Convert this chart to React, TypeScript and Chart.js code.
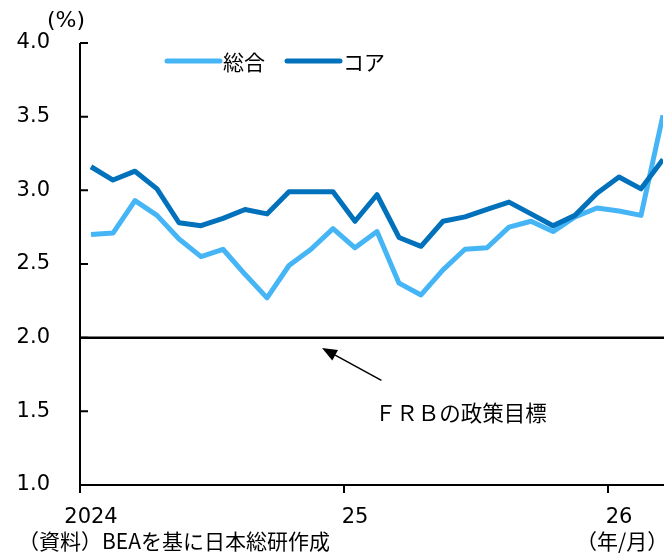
import React, { useEffect, useRef } from "react";
import { Chart, registerables } from "chart.js";

Chart.register(...registerables);

// ---- data ----
const MONTHS = [
  "2024/1", "2024/2", "2024/3", "2024/4", "2024/5", "2024/6", "2024/7", "2024/8", "2024/9", "2024/10", "2024/11", "2024/12",
  "2025/1", "2025/2", "2025/3", "2025/4", "2025/5", "2025/6", "2025/7", "2025/8", "2025/9", "2025/10", "2025/11", "2025/12",
  "2026/1", "2026/2", "2026/3",
];
const HEADLINE = [
  2.70, 2.71, 2.93, 2.83, 2.67, 2.55, 2.60, 2.43, 2.27, 2.49, 2.60, 2.74,
  2.61, 2.72, 2.37, 2.29, 2.46, 2.60, 2.61, 2.75, 2.79, 2.72, 2.82, 2.88,
  2.86, 2.83, 3.51,
];
const CORE = [
  3.16, 3.07, 3.13, 3.01, 2.78, 2.76, 2.81, 2.87, 2.84, 2.99, 2.99, 2.99,
  2.79, 2.97, 2.68, 2.62, 2.79, 2.82, 2.87, 2.92, 2.84, 2.76, 2.83, 2.98,
  3.09, 3.01, 3.21,
];
const SERIES_NAMES = ["総合", "コア"];
const YEAR_LABELS = ["2024", "25", "26"];
const Y_MIN = 1.0;
const Y_MAX = 4.0;
const Y_STEP = 0.5;
const TARGET = 2.0;
const TARGET_LABEL = "ＦＲＢの政策目標";
const UNIT_LABEL = "(%)";
const SOURCE_NOTE = "（資料）BEAを基に日本総研作成";
const X_UNIT = "（年/月）";

const COLORS = { headline: "#46B5F6", core: "#0071BA" };
const CJK = "'Noto Sans CJK JP', sans-serif";
const NUM = "'DejaVu Sans', sans-serif";

const YEAR_TICK_POS = MONTHS.map((m, i) => (m.endsWith("/1") ? i - 0.5 : null)).filter(
  (v) => v !== null
) as number[];

const decor = {
  id: "decor",
  beforeDatasetsDraw(chart: any) {
    const { ctx, chartArea: a, scales } = chart;
    const y = scales.y;
    ctx.save();
    const ty = y.getPixelForValue(TARGET);
    ctx.strokeStyle = "#000";
    ctx.lineWidth = 2.5;
    ctx.beginPath();
    ctx.moveTo(a.left, ty);
    ctx.lineTo(chart.width, ty);
    ctx.stroke();
    ctx.restore();
  },
  afterDraw(chart: any) {
    const { ctx, chartArea: a, scales } = chart;
    const x = scales.x;
    const y = scales.y;
    ctx.save();
    ctx.strokeStyle = "#000";
    ctx.lineWidth = 2;
    // axes
    ctx.beginPath();
    ctx.moveTo(a.left, a.top);
    ctx.lineTo(a.left, a.bottom);
    ctx.moveTo(a.left - 1, a.bottom);
    ctx.lineTo(chart.width, a.bottom);
    ctx.stroke();
    // y ticks (inward)
    ctx.beginPath();
    y.ticks.forEach((t: any) => {
      const py = y.getPixelForValue(t.value);
      ctx.moveTo(a.left, py);
      ctx.lineTo(a.left + 8, py);
    });
    // x ticks (outward)
    x.ticks.forEach((t: any) => {
      const px = x.getPixelForValue(t.value);
      ctx.moveTo(px, a.bottom);
      ctx.lineTo(px, a.bottom + 8);
    });
    ctx.stroke();

    // legend
    const ds = chart.data.datasets;
    const legendItems = [
      { label: ds[0].label, color: ds[0].borderColor, x0: a.left + 85 },
      { label: ds[1].label, color: ds[1].borderColor, x0: a.left + 205 },
    ];
    const ly = a.top + 18;
    ctx.font = `21px ${CJK}`;
    ctx.textBaseline = "middle";
    ctx.textAlign = "left";
    legendItems.forEach((it) => {
      ctx.strokeStyle = it.color;
      ctx.lineWidth = 5;
      ctx.lineCap = "round";
      ctx.beginPath();
      ctx.moveTo(it.x0 + 2, ly);
      ctx.lineTo(it.x0 + 55, ly);
      ctx.stroke();
      ctx.fillStyle = "#000";
      ctx.fillText(it.label, it.x0 + 58, ly + 1);
    });
    ctx.lineCap = "butt";

    // annotation arrow
    const tipX = x.getPixelForValue(10.5);
    const tipY = y.getPixelForValue(1.93);
    const tailX = x.getPixelForValue(13.2);
    const tailY = y.getPixelForValue(1.71);
    const ang = Math.atan2(tipY - tailY, tipX - tailX);
    const headLen = 15;
    const headW = 6;
    const bx = tipX - headLen * Math.cos(ang);
    const by = tipY - headLen * Math.sin(ang);
    ctx.strokeStyle = "#000";
    ctx.lineWidth = 1.5;
    ctx.beginPath();
    ctx.moveTo(tailX, tailY);
    ctx.lineTo(bx, by);
    ctx.stroke();
    ctx.fillStyle = "#000";
    ctx.beginPath();
    ctx.moveTo(tipX, tipY);
    ctx.lineTo(bx + headW * Math.sin(ang), by - headW * Math.cos(ang));
    ctx.lineTo(bx - headW * Math.sin(ang), by + headW * Math.cos(ang));
    ctx.closePath();
    ctx.fill();

    ctx.font = `21.5px ${CJK}`;
    ctx.textAlign = "left";
    ctx.textBaseline = "middle";
    ctx.fillText(TARGET_LABEL, x.getPixelForValue(12.9), y.getPixelForValue(1.49));

    // unit label
    ctx.font = `22px ${NUM}`;
    ctx.textAlign = "center";
    ctx.fillText(UNIT_LABEL, a.left - 14, a.top - 22);

    // bottom notes
    ctx.font = `21px ${CJK}`;
    ctx.textAlign = "left";
    ctx.fillText(SOURCE_NOTE, 18, 541);
    ctx.fillText(X_UNIT, 576, 541);
    ctx.restore();
  },
};

export default function App() {
  const ref = useRef<HTMLCanvasElement | null>(null);
  useEffect(() => {
    if (!ref.current) return;
    const chart = new Chart(ref.current, {
      type: "line",
      data: {
        datasets: [
          {
            label: SERIES_NAMES[0],
            data: HEADLINE.map((v, i) => ({ x: i, y: v })),
            borderColor: COLORS.headline,
            backgroundColor: COLORS.headline,
            borderWidth: 5,
            pointRadius: 0,
            tension: 0,
            borderJoinStyle: "round",
            order: 1,
          },
          {
            label: SERIES_NAMES[1],
            data: CORE.map((v, i) => ({ x: i, y: v })),
            borderColor: COLORS.core,
            backgroundColor: COLORS.core,
            borderWidth: 5,
            pointRadius: 0,
            tension: 0,
            borderJoinStyle: "round",
            order: 0,
          },
        ],
      },
      options: {
        responsive: false,
        animation: false,
        devicePixelRatio: 1,
        layout: { padding: { top: 43, right: 1, left: 0, bottom: 0 } },
        plugins: { legend: { display: false }, tooltip: { enabled: false }, title: { display: false } },
        scales: {
          x: {
            type: "linear",
            min: -0.5,
            max: MONTHS.length - 1,
            grid: { display: false },
            border: { display: false },
            afterBuildTicks: (s: any) => {
              s.ticks = YEAR_TICK_POS.map((v) => ({ value: v }));
            },
            afterFit: (s: any) => {
              s.height = 69;
            },
            ticks: {
              autoSkip: false,
              maxRotation: 0,
              padding: 12,
              labelOffset: 11,
              color: "#000",
              font: { family: NUM, size: 21 },
              callback: (_v: any, i: number) => YEAR_LABELS[i],
            },
          },
          y: {
            min: Y_MIN,
            max: Y_MAX,
            grid: { display: false },
            border: { display: false },
            afterFit: (s: any) => {
              s.width = 80;
            },
            ticks: {
              stepSize: Y_STEP,
              padding: 22,
              color: "#000",
              font: { family: NUM, size: 21 },
              callback: (v: any) => Number(v).toFixed(1),
            },
          },
        },
      },
      plugins: [decor],
    } as any);
    return () => chart.destroy();
  }, []);
  return (
    <div style={{ position: "fixed", left: 0, top: 0, width: 664, height: 554, background: "#fff" }}>
      <canvas ref={ref} width={664} height={554} style={{ display: "block", width: 664, height: 554 }} />
    </div>
  );
}
